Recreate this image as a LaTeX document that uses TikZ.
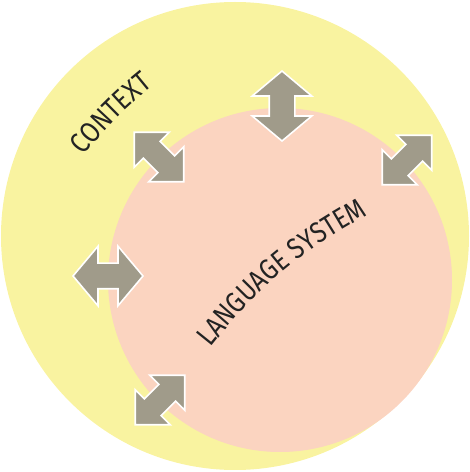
\documentclass[tikz,border=0pt]{standalone}
\usepackage{fontspec}
\setmainfont{Fira Sans}[FakeStretch=0.84]
\usepackage{tikz}
\usetikzlibrary{shapes.arrows, decorations.text}
\definecolor{contextyellow}{RGB}{249,243,160}
\definecolor{langpink}{RGB}{251,212,192}
\definecolor{shiftgrey}{RGB}{160,155,138}
\definecolor{labelink}{RGB}{35,35,35}
\newcommand{\labelfont}{\fontsize{29}{31}\selectfont}

\begin{document}
\begin{tikzpicture}[x=1pt,y=1pt]
  \tikzstyle{exchange}=[double arrow, draw=white, line width=1.6pt, fill=shiftgrey, inner xsep=0pt, inner ysep=11pt, minimum height=70pt, double arrow head extend=13pt, double arrow tip angle=90]
  \tikzstyle{straight}=[inner ysep=12pt, double arrow head extend=17pt, double arrow tip angle=100]
  \useasboundingbox (0,0) rectangle (470,472);

  % the two fields
  \fill[contextyellow] (235,236) circle (234pt);
  \fill[langpink]      (280,192) circle (172pt);

  % exchanges across the border
  \node[exchange,straight,rotate=90]  (top)        at (282,366) {};
  \node[exchange,rotate=-45]          (upper left) at (159,315) {};
  \node[exchange,rotate=45]           (upper right) at (407,312) {};
  \node[exchange,straight]            (left)       at (108,196) {};
  \node[exchange,rotate=45]           (lower left) at (160,72)  {};

  % labels
  \coordinate (ctx start)  at (78,309);
  \coordinate (ctx end)    at (160,392);
  \coordinate (lang start) at (204,116);
  \coordinate (lang end)   at (377,262);

  \path[decorate, decoration={text along path, text color=labelink,
        text={|\labelfont|CONTEXT}, text align=center}]
    (ctx start) to[bend left=7] (ctx end);
  \path[decorate, decoration={text along path, text color=labelink,
        text={|\labelfont|LANGUAGE SYSTEM}, text align=center}]
    (lang start) to[bend left=12] (lang end);
\end{tikzpicture}
\end{document}
